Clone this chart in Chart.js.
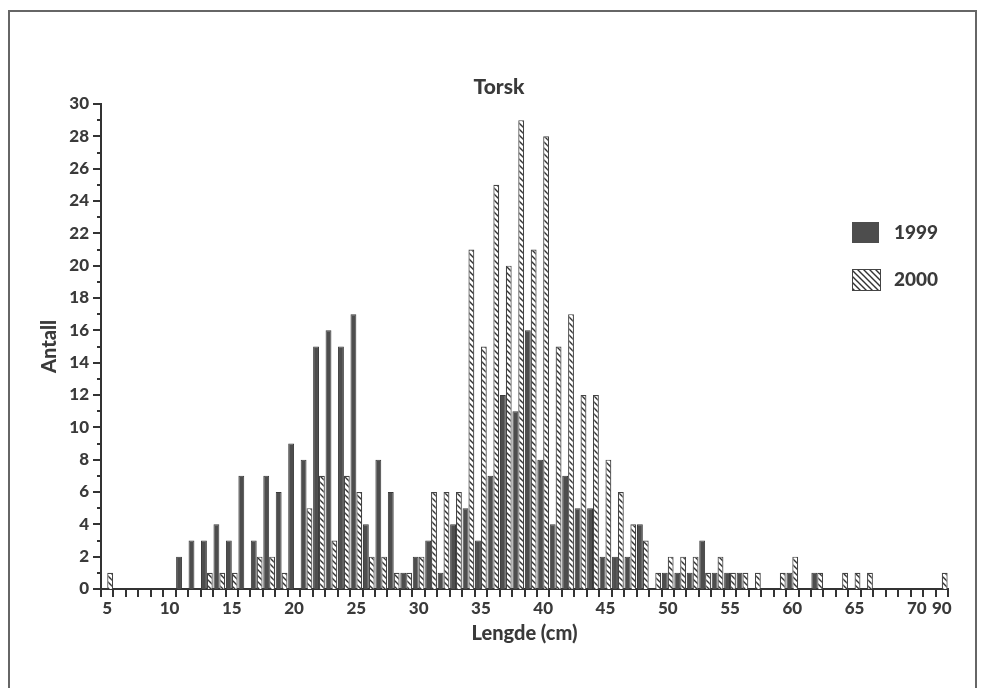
<!DOCTYPE html>
<html>
<head>
<meta charset="utf-8">
<title>Torsk</title>
<script src="https://cdn.jsdelivr.net/npm/chart.js@4.4.1/dist/chart.umd.min.js"></script>
<style>
  html, body { margin: 0; padding: 0; background: #fff; }
  #wrap { position: relative; width: 985px; height: 688px; overflow: hidden; }
  #frame { position: absolute; left: 8px; top: 10px; width: 969px; height: 700px; border: 2px solid #666; box-sizing: border-box; }
  canvas { position: absolute; left: 0; top: 0; }
</style>
</head>
<body>
<div id="wrap">
  <div id="frame"></div>
  <canvas id="chart" width="985" height="688"></canvas>
</div>
<script>
// lengde-klasser (cm), 5..71 og 90
var lengths = ['5','6','7','8','9','10','11','12','13','14',
               '15','16','17','18','19','20','21','22','23','24',
               '25','26','27','28','29','30','31','32','33','34',
               '35','36','37','38','39','40','41','42','43','44',
               '45','46','47','48','49','50','51','52','53','54',
               '55','56','57','58','59','60','61','62','63','64',
               '65','66','67','68','69','70','71','90'];

var antall1999 = [0,0,0,0,0,0,2,3,3,4,
                  3,7,3,7,6,9,8,15,16,15,
                  17,4,8,6,1,2,3,1,4,5,
                  3,7,12,11,16,8,4,7,5,5,
                  2,2,2,4,0,1,1,1,3,1,
                  1,1,0,0,0,1,0,1,0,0,
                  0,0,0,0,0,0,0,0];

var antall2000 = [1,0,0,0,0,0,0,0,1,1,
                  1,0,2,2,1,0,5,7,3,7,
                  6,2,2,1,1,2,6,6,6,21,
                  15,25,20,29,21,28,15,17,12,12,
                  8,6,4,3,1,2,2,2,1,2,
                  1,1,1,0,1,2,0,1,0,1,
                  1,1,0,0,0,0,0,1];

var labelsShown = ['5','10','15','20','25','30','35','40','45','50','55','60','65','70','90'];

var textColor = '#3a3a3a';
var fontFamily = 'Lato, "Open Sans", sans-serif';

function makeHatch() {
    var c = document.createElement('canvas');
    c.width = 6;
    c.height = 6;
    var g = c.getContext('2d');
    g.fillStyle = '#fff';
    g.fillRect(0, 0, 6, 6);
    g.strokeStyle = '#333';
    g.lineWidth = 1.4;
    g.beginPath();
    g.moveTo(-1, -1); g.lineTo(7, 7);
    g.moveTo(-4, 2); g.lineTo(1, 7);
    g.moveTo(5, -1); g.lineTo(10, 4);
    g.stroke();
    return g.createPattern(c, 'repeat');
}

var hatch = makeHatch();

// korte/lange merker paa y-aksen
var yTicksPlugin = {
    id: 'yTicks',
    afterDraw: function (chart) {
        var ctx = chart.ctx, y = chart.scales.y, left = chart.chartArea.left;
        ctx.save();
        ctx.strokeStyle = '#333';
        ctx.lineWidth = 2;
        for (var v = 0; v <= 30; v++) {
            var py = Math.round(y.getPixelForValue(v));
            ctx.beginPath();
            ctx.moveTo(left, py);
            ctx.lineTo(left - (v % 2 === 0 ? 8 : 4), py);
            ctx.stroke();
        }
        ctx.restore();
    }
};

var titleLegendPlugin = {
    id: 'titleLegend',
    afterDraw: function (chart) {
        var ctx = chart.ctx;
        ctx.save();
        ctx.fillStyle = textColor;
        ctx.textAlign = 'center';
        ctx.textBaseline = 'middle';
        ctx.font = '900 21px ' + fontFamily;
        ctx.fillText('Torsk', 499, 87);

        // legend
        ctx.fillStyle = '#4d4d4d';
        ctx.fillRect(852, 222, 27, 21);
        ctx.fillStyle = hatch;
        ctx.fillRect(852, 269, 28, 21);
        ctx.strokeStyle = '#444';
        ctx.lineWidth = 1;
        ctx.strokeRect(852.5, 269.5, 28, 21);

        ctx.fillStyle = textColor;
        ctx.textAlign = 'left';
        ctx.font = '900 19px ' + fontFamily;
        ctx.fillText('1999', 894, 233);
        ctx.fillText('2000', 894, 280);
        ctx.restore();
    }
};

new Chart(document.getElementById('chart'), {
    type: 'bar',
    data: {
        labels: lengths,
        datasets: [
            {
                label: '1999',
                data: antall1999,
                backgroundColor: '#4d4d4d',
                borderColor: '#3a3a3a',
                borderWidth: 1
            },
            {
                label: '2000',
                data: antall2000,
                backgroundColor: hatch,
                borderColor: '#444',
                borderWidth: 1.2
            }
        ]
    },
    options: {
        responsive: false,
        animation: false,
        layout: { padding: { left: 0, right: 37, top: 104, bottom: 0 } },
        plugins: {
            legend: { display: false },
            title: { display: false },
            tooltip: { enabled: false }
        },
        datasets: {
            bar: { categoryPercentage: 0.94, barPercentage: 1.0 }
        },
        scales: {
            x: {
                grid: {
                    display: true,
                    drawOnChartArea: false,
                    drawTicks: true,
                    tickLength: 8,
                    color: '#333',
                    lineWidth: 2,
                    offset: true
                },
                border: { display: true, color: '#333', width: 2 },
                ticks: {
                    autoSkip: false,
                    maxRotation: 0,
                    padding: 1,
                    color: textColor,
                    font: { family: fontFamily, size: 17, weight: '900' },
                    callback: function (value) {
                        var l = this.getLabelForValue(value);
                        return labelsShown.indexOf(l) >= 0 ? l : '';
                    }
                },
                title: {
                    display: true,
                    text: 'Lengde (cm)',
                    color: textColor,
                    font: { family: fontFamily, size: 20, weight: '900' },
                    padding: { top: 0, bottom: 42 }
                },
                afterFit: function (scale) { scale.height = 99; }
            },
            y: {
                min: 0,
                max: 30,
                grid: { display: false, drawTicks: false },
                border: { display: true, color: '#333', width: 2 },
                ticks: {
                    stepSize: 2,
                    padding: 12,
                    color: textColor,
                    font: { family: fontFamily, size: 17, weight: '900' }
                },
                title: {
                    display: true,
                    text: 'Antall',
                    color: textColor,
                    font: { family: fontFamily, size: 20, weight: '900' },
                    padding: { top: 38, bottom: 0 }
                },
                afterFit: function (scale) { scale.width = 101; }
            }
        }
    },
    plugins: [yTicksPlugin, titleLegendPlugin]
});
</script>
</body>
</html>
